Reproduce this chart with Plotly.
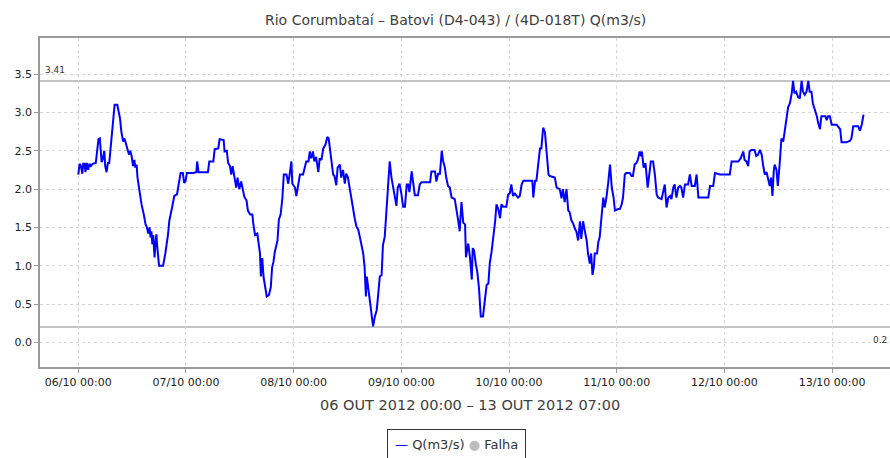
import pandas as pd
import plotly.graph_objects as go

# Discharge series, Rio Corumbataí – Batovi, hours counted from 06/10/2012 00:00
hours = [
    0, 0.3, 0.6, 0.9, 1.1, 1.4, 1.6, 1.9, 2.2, 2.5, 2.8, 3.2, 3.9, 4.2, 4.5, 4.8, 5.0, 5.2, 5.5, 5.8,
    6.0, 6.3, 6.6, 6.9, 7.2, 7.6, 7.9, 8.1, 8.7, 9.0, 9.3, 9.6, 10.0, 10.3, 10.7, 11.0, 11.3, 11.6, 11.9, 12.2,
    12.5, 12.7, 13.0, 13.2, 13.6, 14.1, 14.6, 15.0, 15.3, 15.6, 15.9, 16.1, 16.3, 16.5, 16.7, 16.9, 17.0, 17.2, 17.4, 17.6,
    17.8, 18.0, 18.9, 19.4, 20.0, 20.3, 20.9, 21.4, 22.0, 22.4, 22.8, 23.3, 23.6, 23.9, 24.2, 25.6, 26.3, 26.5, 26.8, 28.9,
    29.2, 30.1, 30.4, 31.2, 31.5, 32.4, 32.6, 33.1, 33.4, 33.8, 34.1, 34.4, 34.8, 35.2, 35.5, 35.9, 36.3, 36.7, 37.0, 37.5,
    37.8, 38.3, 38.8, 39.0, 39.4, 39.9, 40.2, 40.5, 40.7, 41.0, 41.3, 41.6, 42.0, 42.5, 42.9, 43.2, 43.5, 43.8, 44.4, 44.7,
    45.1, 45.5, 45.8, 46.4, 46.8, 47.1, 47.5, 47.7, 48.3, 48.6, 49.0, 49.4, 50.1, 50.5, 50.8, 51.3, 51.6, 51.9, 52.3, 52.6,
    53.0, 53.5, 53.8, 54.2, 54.6, 55.1, 55.5, 55.8, 56.1, 56.4, 56.8, 57.1, 57.5, 57.8, 58.3, 58.6, 59.0, 59.4, 59.7, 60.1,
    60.5, 60.9, 61.3, 61.6, 62.0, 62.4, 62.8, 63.1, 63.5, 63.8, 64.1, 64.3, 64.6, 65.0, 65.3, 65.7, 66.1, 66.5, 66.8, 67.2,
    67.6, 67.9, 68.3, 68.7, 69.1, 69.4, 69.8, 70.2, 70.5, 70.9, 71.2, 71.6, 72.0, 72.4, 72.8, 73.2, 73.5, 73.8, 74.3, 74.6,
    75.0, 75.7, 76.1, 76.5, 78.4, 78.7, 79.5, 79.8, 80.2, 80.6, 81.0, 81.3, 81.7, 82.0, 82.4, 82.8, 83.2, 83.9, 84.3, 84.7,
    85.0, 85.4, 85.8, 86.2, 86.4, 86.9, 87.3, 87.7, 87.9, 88.2, 88.6, 88.9, 89.3, 89.7, 90.2, 90.6, 91.0, 91.4, 91.7, 92.1,
    92.5, 92.9, 93.2, 93.6, 94.0, 94.3, 94.7, 95.4, 95.8, 96.2, 96.5, 96.9, 97.3, 98.0, 98.4, 98.8, 99.2, 101.2, 101.4, 101.8,
    102.1, 102.5, 102.9, 103.2, 103.6, 104.0, 104.4, 104.8, 105.1, 105.9, 106.2, 106.6, 107.3, 107.7, 108.0, 108.4, 108.8, 109.2, 109.5, 109.9,
    110.3, 110.7, 111.0, 111.4, 111.8, 112.1, 112.5, 112.9, 113.3, 113.6, 114.0, 114.3, 114.6, 114.9, 115.1, 115.6, 115.9, 116.2, 116.6, 117.0,
    117.3, 117.7, 118.1, 118.5, 118.9, 119.3, 119.6, 120.3, 120.7, 121.1, 121.4, 121.8, 122.1, 122.9, 123.3, 123.6, 124.0, 124.4, 124.7, 125.1,
    125.4, 125.6, 126.0, 126.4, 126.9, 127.2, 127.6, 128.1, 128.5, 128.9, 129.2, 130.0, 130.4, 130.7, 131.1, 131.5, 131.9, 132.2, 132.6, 132.9,
    133.3, 133.7, 134.1, 134.4, 134.8, 135.2, 135.9, 136.3, 136.7, 137.4, 137.8, 138.0, 138.2, 140.4, 140.8, 141.5, 141.9, 143.0, 145.2, 145.6,
    147.1, 147.6, 148.2, 148.5, 148.9, 149.3, 149.6, 150.0, 150.7, 151.1, 151.5, 151.9, 152.3, 152.6, 153.0, 153.4, 153.8, 154.1, 154.4, 154.7,
    155.0, 155.2, 155.6, 155.9, 156.3, 156.7, 157.1, 157.5, 157.9, 158.2, 158.6, 159.0, 159.3, 159.6, 160.0, 160.4, 160.8, 161.2, 161.5, 161.9,
    162.3, 162.7, 163.0, 163.4, 163.7, 164.1, 164.6, 164.9, 165.3, 165.6, 166.5, 166.8, 167.1, 167.5, 167.9, 169.0, 169.8, 170.1, 171.2, 172.0,
    172.3, 172.7, 173.8, 174.2, 174.6, 175.0,
]
flow = [
    2.19, 2.33, 2.30, 2.20, 2.33, 2.33, 2.22, 2.34, 2.25, 2.33, 2.30, 2.33, 2.34, 2.55, 2.65, 2.66, 2.50, 2.35, 2.40, 2.50,
    2.30, 2.22, 2.34, 2.34, 2.53, 2.79, 2.95, 3.10, 3.10, 3.00, 2.92, 2.75, 2.62, 2.66, 2.58, 2.52, 2.45, 2.50, 2.43, 2.30,
    2.38, 2.28, 2.32, 2.15, 1.97, 1.80, 1.67, 1.54, 1.50, 1.42, 1.50, 1.37, 1.45, 1.28, 1.40, 1.20, 1.11, 1.30, 1.41, 1.25,
    1.12, 1.00, 1.00, 1.16, 1.41, 1.59, 1.76, 1.91, 1.93, 2.10, 2.21, 2.21, 2.08, 2.10, 2.21, 2.21, 2.22, 2.36, 2.22, 2.22,
    2.36, 2.36, 2.52, 2.53, 2.65, 2.64, 2.49, 2.50, 2.34, 2.30, 2.19, 2.30, 2.15, 2.02, 2.15, 2.00, 2.10, 1.99, 1.90, 1.85,
    1.72, 1.67, 1.67, 1.55, 1.40, 1.42, 1.30, 1.16, 0.86, 1.10, 0.85, 0.72, 0.60, 0.62, 0.72, 0.98, 1.05, 1.18, 1.33, 1.60,
    1.67, 1.89, 2.19, 2.19, 2.07, 2.19, 2.36, 2.07, 2.02, 1.91, 2.07, 2.19, 2.19, 2.28, 2.36, 2.36, 2.49, 2.40, 2.49, 2.36,
    2.42, 2.22, 2.40, 2.38, 2.53, 2.58, 2.68, 2.66, 2.50, 2.36, 2.19, 2.17, 2.05, 2.28, 2.32, 2.15, 2.25, 2.07, 2.20, 2.15,
    2.00, 1.85, 1.72, 1.62, 1.51, 1.47, 1.36, 1.27, 1.16, 0.99, 0.60, 0.86, 0.72, 0.52, 0.34, 0.21, 0.34, 0.42, 0.60, 0.86,
    0.88, 1.27, 1.38, 1.72, 2.02, 2.36, 2.15, 2.02, 1.89, 1.78, 2.02, 2.07, 1.94, 1.77, 1.77, 2.06, 2.06, 1.96, 2.23, 2.06,
    1.92, 1.92, 2.06, 2.09, 2.09, 2.23, 2.23, 2.10, 2.20, 2.20, 2.50, 2.37, 2.28, 2.15, 2.04, 2.02, 1.89, 1.87, 1.74, 1.58,
    1.45, 1.83, 1.56, 1.54, 1.11, 1.29, 1.11, 0.82, 1.23, 1.20, 1.02, 0.93, 0.71, 0.34, 0.34, 0.51, 0.75, 0.77, 1.03, 1.18,
    1.36, 1.58, 1.80, 1.74, 1.62, 1.80, 1.77, 1.77, 1.93, 1.95, 2.06, 1.91, 1.94, 1.89, 1.91, 2.06, 2.11, 2.11, 1.89, 2.11,
    2.11, 2.36, 2.53, 2.53, 2.80, 2.74, 2.50, 2.19, 2.17, 2.15, 2.15, 2.02, 2.00, 1.88, 2.00, 1.83, 2.00, 1.72, 1.70, 1.59,
    1.55, 1.48, 1.45, 1.33, 1.58, 1.35, 1.58, 1.45, 1.33, 1.16, 1.03, 1.16, 0.88, 0.99, 1.16, 1.16, 1.31, 1.37, 1.59, 1.89,
    1.76, 1.89, 2.08, 2.32, 2.02, 1.89, 1.72, 1.74, 1.74, 1.80, 1.89, 2.19, 2.21, 2.21, 2.17, 2.17, 2.32, 2.34, 2.38, 2.49,
    2.43, 2.49, 2.28, 2.34, 2.02, 2.21, 2.36, 2.36, 2.19, 1.93, 1.89, 1.87, 1.98, 2.06, 1.76, 1.89, 1.91, 1.87, 2.02, 2.06,
    1.89, 2.02, 2.04, 2.02, 1.89, 2.06, 2.06, 2.19, 2.04, 2.04, 2.19, 2.04, 1.89, 1.89, 2.04, 2.04, 2.21, 2.19, 2.19, 2.36,
    2.36, 2.40, 2.49, 2.38, 2.36, 2.30, 2.49, 2.51, 2.51, 2.43, 2.45, 2.51, 2.45, 2.32, 2.19, 2.22, 2.09, 2.04, 2.15, 1.91,
    2.24, 2.32, 2.25, 2.04, 2.32, 2.66, 2.62, 2.79, 2.95, 3.07, 3.12, 3.25, 3.41, 3.25, 3.27, 3.20, 3.18, 3.41, 3.27, 3.23,
    3.27, 3.41, 3.27, 3.27, 3.12, 3.05, 2.95, 2.86, 2.78, 2.95, 2.95, 2.90, 2.95, 2.95, 2.84, 2.84, 2.78, 2.61, 2.61, 2.63,
    2.66, 2.82, 2.82, 2.76, 2.84, 2.97,
]

# Reference levels drawn as horizontal markers: maximum and minimum of the period
max_level = 3.41
min_level = 0.2

y_ticks = [0.0, 0.5, 1.0, 1.5, 2.0, 2.5, 3.0, 3.5]

start = pd.Timestamp("2012-10-06 00:00")
times = start + pd.to_timedelta(hours, unit="h")

FONT = "DejaVu Sans"
GRID = "#d4d4d4"
AXIS = "#9a9a9a"

fig = go.Figure()
fig.add_trace(go.Scatter(
    x=times, y=flow, mode="lines", name="Q(m3/s)",
    line=dict(color="#0000ff", width=2), showlegend=False,
))

# Horizontal marker lines
for lvl in (max_level, min_level):
    fig.add_shape(type="line", xref="paper", x0=0, x1=1, yref="y", y0=lvl, y1=lvl,
                  line=dict(color="#b0b0b0", width=1.5), layer="below")

x_lo = start - pd.Timedelta(hours=8.53)
x_hi = start + pd.Timedelta(hours=180.9)

fig.update_layout(
    width=890, height=458,
    margin=dict(l=40, r=0, t=38, b=91),
    paper_bgcolor="white", plot_bgcolor="white",
    font=dict(family=FONT, size=11, color="#333333"),
    showlegend=False,
    xaxis=dict(
        type="date", range=[x_lo, x_hi],
        tick0=start, dtick=86400000, tickformat="%d/%m %H:%M",
        showgrid=True, gridcolor=GRID, griddash="3px,3px", gridwidth=1,
        showline=True, linecolor=AXIS, linewidth=1.5, mirror=True,
        ticks="outside", ticklen=4, tickcolor=AXIS,
        tickfont=dict(family=FONT, size=11, color="#222222"),
        zeroline=False,
    ),
    yaxis=dict(
        range=[-0.32, 3.97], tickvals=y_ticks, tickformat=".1f",
        showgrid=True, gridcolor=GRID, griddash="3px,3px", gridwidth=1,
        showline=True, linecolor=AXIS, linewidth=1.5,
        ticks="outside", ticklen=4, tickcolor=AXIS,
        tickfont=dict(family=FONT, size=11, color="#222222"),
        zeroline=False,
    ),
)

annotations = [
    # chart title
    dict(text="Rio Corumbataí – Batovi (D4-043) / (4D-018T) Q(m3/s)",
         xref="paper", yref="paper", x=0.489, y=1, yshift=18,
         xanchor="center", yanchor="middle", showarrow=False,
         font=dict(family=FONT, size=14, color="#404040")),
    # period shown below the date axis
    dict(text="06 OUT 2012 00:00 – 13 OUT 2012 07:00",
         xref="paper", yref="paper", x=0.506, y=0, yshift=-38,
         xanchor="center", yanchor="middle", showarrow=False,
         font=dict(family=FONT, size=14.5, color="#404040")),
    # marker labels
    dict(text=f"{max_level:.2f}", xref="paper", yref="y", x=0, xshift=3, y=max_level, yshift=4,
         xanchor="left", yanchor="bottom", showarrow=False,
         font=dict(family=FONT, size=9, color="#333333")),
    dict(text=f"{min_level:g}", xref="paper", yref="y", x=1, xshift=-1, y=min_level, yshift=-6,
         xanchor="right", yanchor="top", showarrow=False,
         font=dict(family=FONT, size=9, color="#333333")),
    # legend box
    dict(text="<span style='color:#0000ff'>—</span> Q(m3/s) <span style='color:#bdbdbd'>●</span> Falha",
         xref="paper", yref="paper", x=0.49, y=0, yshift=-62,
         xanchor="center", yanchor="top", showarrow=False,
         bordercolor="#333333", borderwidth=1, borderpad=7, bgcolor="white",
         font=dict(family=FONT, size=13, color="#333333")),
]
fig.update_layout(annotations=annotations)

fig.write_html("out.html")
